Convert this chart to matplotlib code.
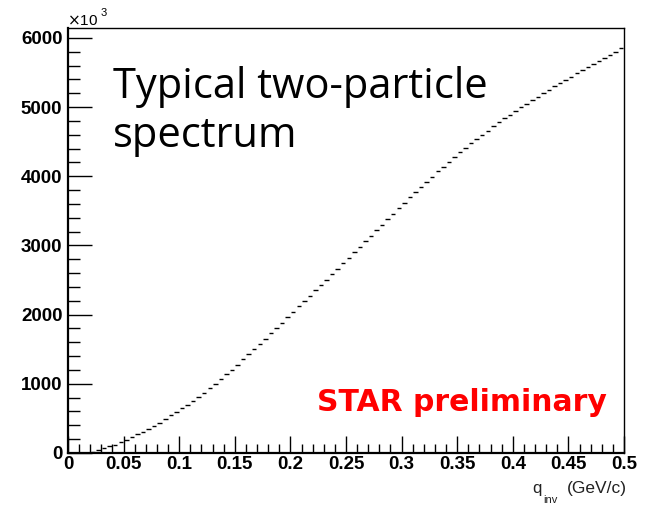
import numpy as np
import matplotlib
matplotlib.use("Agg")
import matplotlib.pyplot as plt
from matplotlib.ticker import MultipleLocator
from matplotlib.font_manager import FontProperties

# q_inv histogram: 100 bins between 0 and 0.5 GeV/c, counts in units of 10^3
bin_lo = 0.0
bin_hi = 0.5
n_bins = 100
counts_k = [
    0, 0, 0, 3, 15, 38, 65, 95, 122, 155,
    190, 228, 268, 308, 350, 393, 440, 490, 542, 595,
    645, 695, 750, 808, 870, 935, 1000, 1068, 1135, 1205,
    1278, 1352, 1428, 1502, 1578, 1652, 1730, 1808, 1885, 1962,
    2040, 2118, 2195, 2272, 2350, 2425, 2500, 2580, 2660, 2740,
    2820, 2900, 2980, 3060, 3140, 3220, 3300, 3380, 3460, 3540,
    3620, 3695, 3770, 3845, 3920, 3995, 4070, 4140, 4210, 4280,
    4345, 4410, 4475, 4540, 4600, 4660, 4720, 4778, 4835, 4890,
    4945, 5000, 5050, 5100, 5150, 5200, 5250, 5300, 5348, 5395,
    5440, 5485, 5530, 5575, 5618, 5660, 5712, 5755, 5800, 5850,
]
y_ticks = [0, 1000, 2000, 3000, 4000, 5000, 6000]
y_labels = ["0", "1000", "2000", "3000", "4000", "5000", "6000"]
x_ticks = [0, 0.05, 0.1, 0.15, 0.2, 0.25, 0.3, 0.35, 0.4, 0.45, 0.5]
x_labels = ["0", "0.05", "0.1", "0.15", "0.2", "0.25", "0.3", "0.35", "0.4", "0.45", "0.5"]
title_lines = ["Typical two-particle", "spectrum"]

edges = np.linspace(bin_lo, bin_hi, n_bins + 1)
width = edges[1] - edges[0]
gap = 0.1 * width

W, H = 648, 505
fig = plt.figure(figsize=(W / 100, H / 100), dpi=100)
ax = fig.add_axes([0.1049, 0.1030, 0.8581, 0.8416])

ax.hlines(counts_k, edges[:-1] + gap, edges[1:] - gap, colors="black", linewidth=1.0)

ax.set_xlim(bin_lo, bin_hi)
ax.set_ylim(0, 1.05 * max(counts_k))

tick_fp = FontProperties(family="Liberation Sans", weight="bold", size=13.5)
ax.set_xticks(x_ticks)
ax.set_xticklabels(x_labels, fontproperties=tick_fp)
ax.set_yticks(y_ticks)
ax.set_yticklabels(y_labels, fontproperties=tick_fp)
ax.xaxis.set_minor_locator(MultipleLocator(0.01))
ax.yaxis.set_minor_locator(MultipleLocator(200))

ax.tick_params(axis="both", which="both", direction="in", top=False, right=False,
               color="black", width=1.0)
ax.tick_params(axis="y", which="major", length=17, pad=4)
ax.tick_params(axis="y", which="minor", length=8.5)
ax.tick_params(axis="x", which="major", length=12, pad=2.5)
ax.tick_params(axis="x", which="minor", length=6.5)

for side in ["left", "bottom"]:
    ax.spines[side].set_linewidth(1.6)
for side in ["top", "right"]:
    ax.spines[side].set_linewidth(1.0)

# exponent marker above the y axis
fig.text(0.104, 0.950, r"$\times$10", family="Liberation Sans", size=11, ha="left", va="baseline")
fig.text(0.155, 0.969, "3", family="Liberation Sans", size=8, ha="left", va="baseline")

# x axis title
title_col = "#222222"
fig.text(0.822, 0.024, "q", family="Liberation Sans", size=12, ha="left", va="baseline", color=title_col)
fig.text(0.838, 0.004, "inv", family="Liberation Sans", size=8, ha="left", va="baseline", color=title_col)
fig.text(0.968, 0.024, "(GeV/c)", family="Liberation Sans", size=12.5, ha="right", va="baseline", color=title_col)

# caption, one line per baseline
for line, base_px in zip(title_lines, [98, 147]):
    fig.text(113 / W, 1 - base_px / H, line, family="Open Sans", size=30,
             ha="left", va="baseline")

fig.text(607 / W, 1 - 411 / H, "STAR preliminary",
         family="DejaVu Sans", weight="bold", size=21.5, color="#ff0000", ha="right", va="baseline")

fig.savefig("out.png", dpi=100)
